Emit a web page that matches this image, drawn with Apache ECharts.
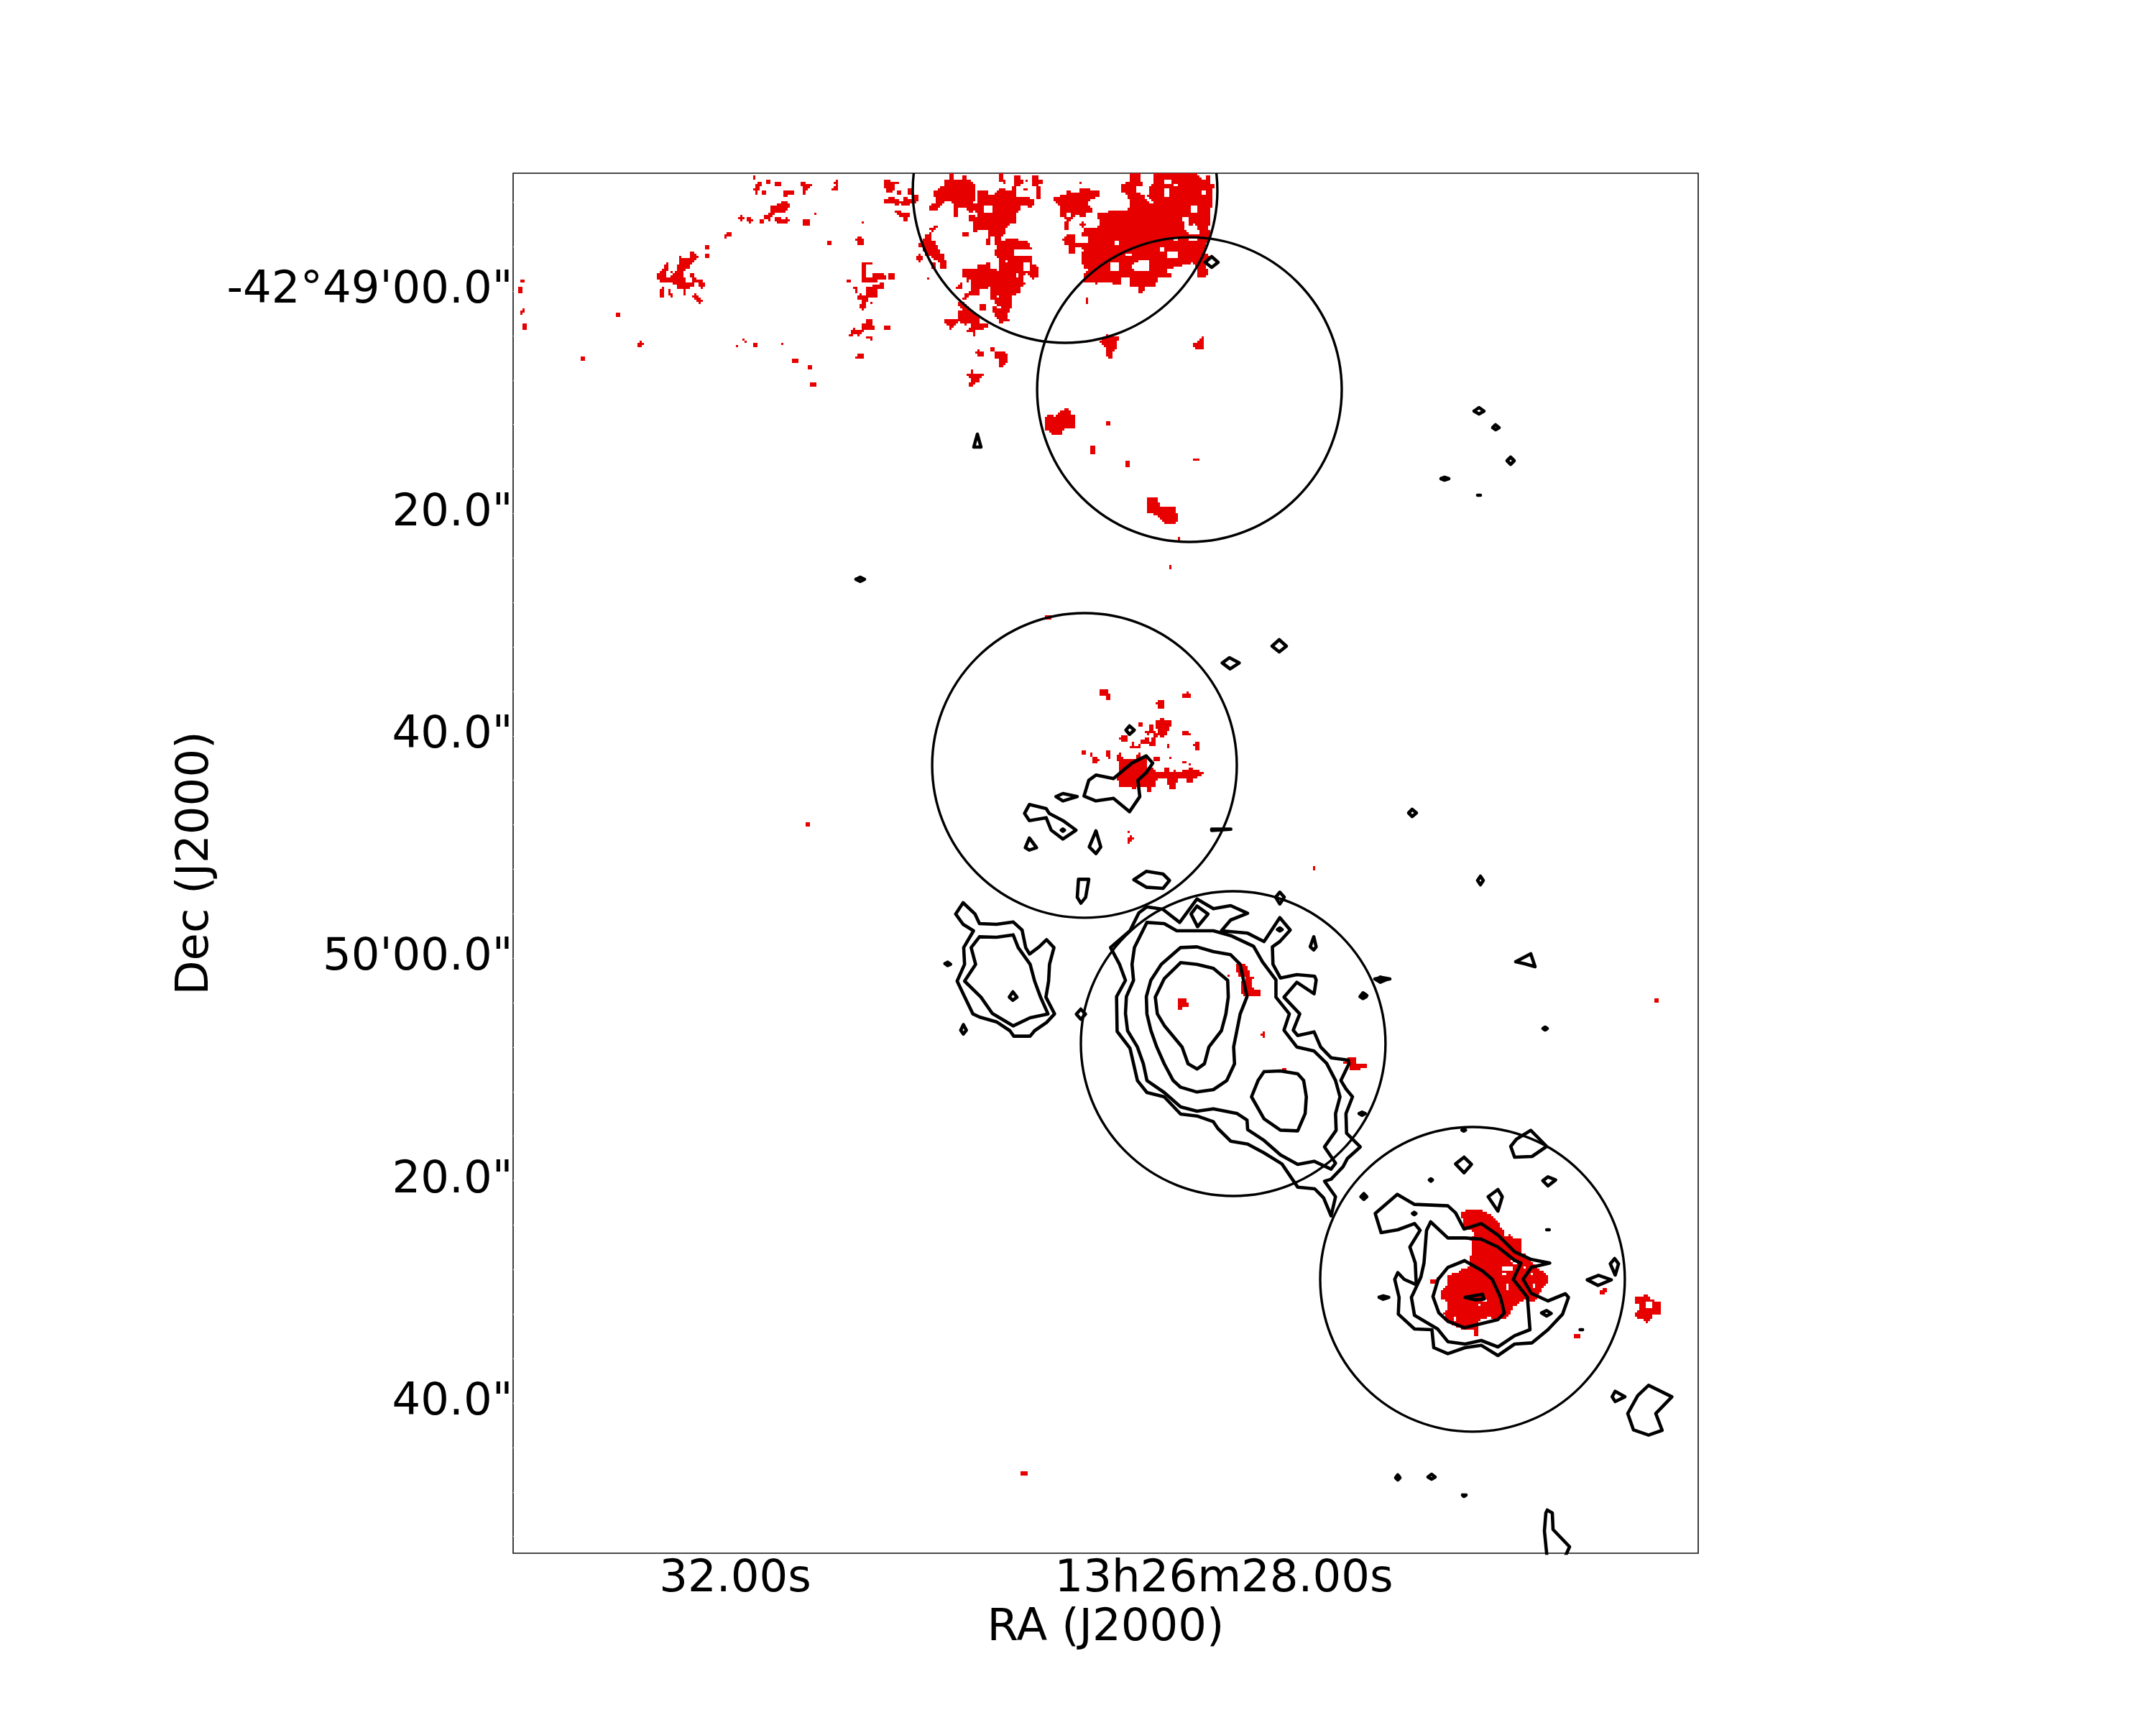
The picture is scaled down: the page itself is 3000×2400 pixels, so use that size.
<!DOCTYPE html>
<html><head><meta charset="utf-8">
<style>html,body{margin:0;padding:0;background:#fff}#c{width:3000px;height:2400px}</style>
<script src="https://cdn.jsdelivr.net/npm/echarts@6/dist/echarts.min.js"></script>
</head><body><div id="c"></div>
<script>
// Tick labels
const raTicks = [32, 28];
const raLabels = ['32.00s', '13h26m28.00s'];
const decTicks = [0, 20, 40, 60, 80, 100];
const decLabels = ['-42°49\'00.0"', '20.0"', '40.0"', '50\'00.0"', '20.0"', '40.0"'];
const decMinorTicks = [-8,-4,0,4,8,12,16,20,24,28,32,36,40,44,48,52,56,60,64,68,72,76,80,84,88,92,96,100,104,108,112];

// Apertures: RA seconds, Dec offset arcsec from -42d49m, radius arcsec
const apertures = [
  [29.3, -9.05, 13.7],
  [28.282, 8.86, 13.7],
  [29.141, 42.66, 13.7],
  [27.924, 67.68, 13.7],
  [25.965, 88.88, 13.7]
];

// Traced samples, each set read in its own frame: [originX, originY, scaleX, scaleY]
const frame0 = [0, 0, 1, 1];
const frame1 = [700, 230, 3, 3];
const frame2 = [1200, 230, 3, 3];
const frame3 = [1280, 840, 3, 3];
const frame4 = [1280, 1230, 2.412, 3];
const frame5 = [1820, 1550, 2.8, 3];

const contours3 = [
 [685,803,705,737,735,715,808,730,885,665,945,635,972,665,945,705,910,737,918,805,875,868,808,812,735,823],
 [568,805,597,792,657,805,597,823],
 [437,875,457,838,527,855,540,875,597,905,652,945,597,982,548,945,527,893,457,905],
 [440,1018,457,978,487,1018,457,1028],
 [735,948,755,1015,735,1043,707,1015],
 [662,1150,705,1150,692,1225,672,1250,657,1225],
 [893,1152,945,1117,1015,1128,1042,1155,1015,1188,945,1183],
 [1218,941,1298,941,1298,946,1218,946],
 [875,510,895,527,875,545,860,527],
 [1262,247,1292,225,1333,247,1295,272],
 [590,945,597,940,604,945,597,950]
];
const contours4 = [
 [120,125,145,78,185,125,200,165,257,168,313,158,343,192,355,265,368,292,400,262,425,232,450,265,435,335,432,405,423,472,452,542,425,578,385,612,370,635,315,635,302,612,257,575,200,555,178,542,150,470,125,405,150,335,147,265,180,195,145,168],
 [200,220,257,222,313,212,330,265,370,335,385,405,405,472,430,542,370,558,313,592,243,540,205,472,150,405,187,335,172,265],
 [312,450,326,472,312,485,300,472],
 [146,587,156,610,146,626,137,610],
 [84,332,93,326,103,335,93,340],
 [540,522,556,543,540,564,525,543],
 [640,265,705,195,735,120,762,95,815,105,872,160,930,62,985,103,1043,90,1100,122,1043,150,1012,195,1100,205,1155,240,1208,140,1243,192,1208,240,1183,262,1185,335,1210,392,1265,378,1325,385,1330,400,1323,458,1265,410,1222,472,1275,542,1253,610,1268,632,1323,617,1345,680,1380,725,1438,735,1440,750,1413,820,1430,855,1452,888,1430,958,1432,1040,1478,1097,1435,1145,1420,1180,1380,1232,1358,1240,1395,1305,1380,1385,1355,1310,1325,1272,1268,1265,1215,1168,1155,1122,1100,1085,1043,1073,1000,1020,985,992,930,968,875,960,820,888,762,870,730,820,705,685,662,615,660,470,690,402,670,335],
 [762,160,820,165,862,195,985,195,1043,215,1120,260,1150,325,1195,400,1195,472,1240,542,1222,610,1265,680,1323,697,1365,748,1395,820,1410,888,1395,958,1397,1028,1358,1097,1395,1165,1380,1190,1323,1157,1268,1170,1210,1130,1155,1070,1100,1025,1098,985,1065,958,985,938,930,948,875,930,820,870,762,820,750,750,730,680,697,612,690,540,693,470,717,402,712,335,720,265],
 [875,265,930,262,985,282,1043,295,1075,335,1098,470,1075,542,1053,680,1056,750,1030,820,985,858,930,868,875,848,850,820,820,750,795,680,775,610,762,542,760,470,775,402,810,335],
 [875,328,930,335,985,352,1033,402,1035,472,1027,542,1012,612,970,680,955,750,930,772,900,750,880,680,820,590,797,542,790,472,820,395],
 [1155,783,1210,780,1268,792,1288,820,1297,888,1293,958,1268,1030,1210,1027,1155,980,1113,888,1135,820],
 [930,92,967,125,932,178,910,125],
 [1322,220,1330,262,1322,275,1310,262],
 [1532,400,1545,388,1563,400,1545,410],
 [1487,454,1498,470,1487,478,1477,470],
 [1474,958,1484,952,1495,958,1484,965],
 [1490,1292,1500,1305,1490,1316,1480,1305],
 [1208,34,1223,55,1208,83,1194,55],
 [1200,190,1208,183,1216,190,1208,196]
];
const contours5 = [
 [262,415,348,335,415,377,545,383,575,412,608,480,675,457,740,505,805,575,870,607,942,622,870,640,838,690,870,748,935,780,1003,750,1015,765,992,835,935,900,873,955,805,960,740,1008,675,965,612,975,545,1000,490,975,483,900,415,897,352,835,355,765,338,690,350,662,375,690,422,712,418,622,397,555,437,485,415,457,350,483,285,495],
 [478,450,545,517,612,517,675,522,740,555,805,610,830,622,800,690,855,765,865,900,805,925,740,972,675,945,612,960,545,950,505,897,415,840,403,765,412,745,440,680,452,622,462,485],
 [610,612,680,655,718,690,750,765,765,830,740,858,610,892,545,865,510,830,487,762,507,690,545,640],
 [612,765,680,752,686,772,650,775],
 [608,180,637,210,608,245,575,208],
 [790,135,812,105,868,68,930,135,873,177,805,180],
 [915,278,935,262,965,275,935,300],
 [702,345,740,315,757,345,740,405],
 [1178,625,1195,603,1210,625,1197,672],
 [1088,692,1132,673,1182,692,1130,715],
 [1185,1180,1197,1157,1235,1180,1197,1200],
 [1246,1250,1285,1175,1327,1132,1418,1180,1355,1250,1380,1320,1327,1340,1268,1318],
 [209,345,217,337,225,345,217,352],
 [473,275,479,270,485,275,479,280],
 [407,415,414,410,421,415,414,420],
 [277,765,293,759,315,765,293,773],
 [910,830,930,820,948,832,930,843],
 [930,483,935,479,940,483,935,487],
 [1060,900,1065,897,1070,900,1065,904],
 [600,67,607,63,614,67,607,71]
];
const contours0 = [
 [2051,572,2058,567,2065,572,2058,576],
 [2077,595,2081,591,2086,595,2081,598],
 [2097,641,2102,636,2107,641,2102,646],
 [2005,666,2010,664,2016,666,2010,668],
 [2056,689,2058,687,2060,689,2058,691],
 [1355,622,1360,604,1365,622],
 [1191,806,1197,803,1203,806,1197,809],
 [1677,365,1686,357,1695,365,1686,372],
 [1770,899,1780,890,1790,899,1780,907],
 [1960,1131,1965,1126,1971,1131,1965,1136],
 [2056,1225,2060,1219,2064,1225,2060,1231],
 [2109,1338,2130,1327,2136,1345,2122,1341],
 [2147,1431,2150,1429,2153,1431,2150,1433],
 [1913,1362,1923,1360,1934,1362,1923,1364],
 [1894,1385,1898,1382,1902,1385,1898,1388],
 [2035,2080,2037,2079,2040,2080,2037,2082],
 [1942,2056,1945,2052,1948,2056,1945,2059],
 [1987,2055,1992,2051,1997,2055,1992,2058],
 [2153,2101,2160,2105,2161,2128,2184,2152,2176,2170,2153,2170,2149,2130,2151,2105]
];

// Emission mask outlines
const redAreas1 = [
 [1044,93,1056,93,1056,75,1065,75,1065,66,1083,66,1083,84,1074,84,1074,102,1083,102,1083,110,1065,110,1065,120,1056,120,1056,110,1044,110],
 [1239,66,1260,66,1260,75,1287,75,1287,84,1278,84,1278,93,1269,93,1269,110,1260,110,1260,120,1251,120,1251,110,1239,110,1239,102,1251,102,1251,84,1239,84],
 [1158,150,1185,150,1185,158,1194,158,1194,176,1185,176,1185,185,1176,185,1176,194,1137,194,1137,203,1128,203,1128,212,1119,212,1119,221,1092,221,1092,203,1110,203,1110,194,1119,194,1119,167,1146,167,1146,158,1158,158],
 [777,363,795,363,795,372,804,372,804,381,813,381,813,390,804,390,804,399,795,399,795,408,786,408,786,417,777,417,777,430,765,430,765,438,756,438,756,465,765,465,765,483,786,483,786,465,804,465,804,474,831,474,831,483,840,483,840,510,831,510,831,519,822,519,822,510,813,510,813,492,795,492,795,510,777,510,777,519,765,519,765,530,756,530,756,519,729,519,729,501,711,501,711,492,672,492,672,483,654,483,654,474,645,474,645,447,654,447,654,438,663,438,663,429,672,429,672,418,684,418,684,408,693,408,693,438,684,438,684,465,702,465,702,456,711,456,711,447,720,447,720,438,729,438,729,418,738,418,738,381,747,381,747,390,777,390]
];
const redRects1 = [
 [1044,45,1056,57],[1101,57,1119,75],[1137,66,1158,84],[1083,110,1101,120],[1167,110,1185,129],[1176,102,1203,120],[1203,110,1212,120],
 [1389,57,1398,84],[1380,66,1389,75],[1371,93,1389,110],[1380,84,1398,102],[1110,221,1119,231],[1137,212,1158,231],[1146,221,1185,242],[1176,212,1185,221],[1185,221,1194,231],
 [1074,221,1092,242],[1017,212,1035,231],[1035,221,1044,231],[1026,231,1035,242],[981,212,1008,221],[990,203,999,231],[1251,221,1278,251],[1296,194,1305,203],
 [933,279,951,297],[924,288,933,305],[840,336,858,354],[840,372,858,390],[1353,315,1371,336],[1473,306,1482,315],[1482,297,1500,336],
 [702,438,711,447],[777,447,795,465],[663,510,672,519],[654,519,672,549],[693,519,702,540],[702,531,711,549],[756,530,765,540],
 [795,531,804,558],[786,540,813,549],[804,549,822,567],[813,558,831,567],[813,567,822,576],
 [69,474,87,492],[60,510,78,531],[78,594,87,612],[69,603,78,624],[78,660,96,687],[468,612,486,633],[561,744,579,762],[570,735,579,744],[579,744,591,753],
 [321,798,339,819],[999,726,1008,735],[1008,735,1017,744],[972,753,981,762],[1044,744,1065,762],[1158,744,1167,753],[1203,810,1230,828],[1269,837,1287,855],[1278,903,1305,921],
 [1437,474,1455,492],[1464,510,1482,519],[1473,519,1482,531],[1482,540,1500,558],[1491,531,1500,540],[1491,576,1500,594],
 [1455,687,1500,705],[1464,678,1473,687],[1446,705,1464,717],[1482,705,1491,717],[1473,798,1500,810],[1482,789,1500,798]
];
const redAreas2 = [
 [85,66,95,57,120,57,120,66,150,66,150,75,130,75,130,102,120,112,103,112,85,90],
 [85,138,110,138,110,130,130,130,130,138,150,138,150,148,168,148,168,138,178,130,190,130,190,138,205,138,205,120,235,130,235,148,222,148,222,158,195,158,195,170,168,170,150,158,150,168,130,168,130,158,85,158],
 [133,185,160,185,160,195,195,195,195,212,185,230,175,230,175,212,150,212,133,195],
 [0,408,40,408,40,418,20,418,20,465,40,465,40,455,50,448,85,448,85,458,95,465,95,475,60,475,60,483,0,483],
 [20,510,40,510,40,500,70,492,93,492,93,510,60,520,60,548,30,548,20,575,10,602,0,602,0,540,20,540],
 [20,645,40,643,40,668,48,668,48,687,10,687,10,695,0,695,0,660,20,660],
 [363,28,382,28,382,57,420,57,420,45,430,45,430,57,460,70,472,85,472,130,465,158,482,158,482,110,520,103,528,125,550,125,575,95,595,95,598,110,622,110,625,85,640,85,640,130,700,130,700,138,718,138,718,168,700,178,670,165,660,185,640,205,640,240,620,245,600,265,600,290,580,295,580,315,620,305,690,315,700,340,708,340,698,355,640,352,632,370,650,382,708,382,708,408,735,430,735,465,752,480,735,470,720,470,712,480,700,470,680,450,670,480,678,490,660,510,660,530,625,545,625,600,615,600,605,630,615,650,570,660,565,640,550,620,540,595,560,585,550,560,530,555,530,510,495,512,485,510,490,545,440,545,430,558,410,560,430,535,450,520,450,480,437,485,440,465,420,465,420,435,455,430,480,430,485,415,530,408,540,435,575,440,575,400,565,385,550,375,548,355,565,355,565,335,550,330,550,297,540,297,528,335,513,335,513,305,522,305,522,270,465,275,465,220,480,210,470,190,440,195,437,180,400,180,400,210,382,212,382,180,372,150,345,150,328,175,310,185,280,185,280,168,300,160,310,150,300,130,290,125,300,110,320,95,345,85,345,57,363,57],
 [262,288,288,280,290,315,305,320,318,345,330,372,345,372,345,400,353,400,353,437,328,437,328,420,318,400,300,395,290,380,262,378,250,345,225,345,240,325,262,305],
 [485,585,495,576,512,576,522,590,512,603,495,603,485,595],
 [400,565,420,565,440,590,480,625,490,645,485,660,520,655,522,675,500,685,475,685,472,715,465,715,460,700,440,700,437,688,450,680,455,662,435,662,430,668,420,660,400,655,380,668,372,685,365,685,360,668,345,655,337,643,395,645,400,610,415,600,400,585],
 [475,780,485,770,495,780,503,780,503,798,485,798,475,790],
 [530,762,550,762,550,780,595,780,605,790,605,810,615,815,595,830,585,845,575,845,575,810,550,805,550,780,530,780],
 [455,847,465,847,465,870,472,882,472,872,503,872,503,882,490,885,490,900,470,905,465,920,447,920,447,905,455,900,447,882,437,882,437,872,448,872],
 [1115,28,1163,28,1163,65,1173,70,1173,85,1140,85,1140,110,1180,130,1190,150,1200,160,1215,155,1205,140,1185,130,1180,120,1200,120,1200,85,1218,70,1218,28,1400,28,1400,45,1430,65,1430,45,1450,45,1450,75,1478,85,1465,100,1465,155,1450,190,1450,230,1445,270,1455,275,1450,300,1430,350,1420,380,1430,365,1450,375,1455,390,1430,420,1450,440,1435,465,1395,465,1395,425,1375,410,1345,420,1340,410,1320,428,1300,428,1290,435,1275,430,1275,455,1293,455,1293,473,1265,473,1260,465,1235,465,1228,490,1228,510,1180,510,1170,530,1152,530,1152,510,1120,510,1115,470,1082,465,1082,500,1042,500,1040,490,1015,483,980,490,975,500,968,490,945,490,925,483,920,460,945,440,925,425,915,395,912,370,925,350,915,345,890,345,890,370,865,370,865,340,850,335,838,310,855,290,885,290,885,322,920,325,945,320,945,295,920,295,920,280,930,262,978,262,988,240,978,200,990,195,1100,185,1115,175,1115,150,1105,125,1080,110,1080,85,1115,65],
 [855,103,875,103,875,118,910,118,910,100,950,95,958,103,988,103,988,130,945,150,940,170,965,180,965,195,945,200,930,185,930,212,910,212,900,205,880,215,870,230,860,230,865,268,848,268,838,235,855,225,820,210,830,190,820,170,802,150,802,130,820,130,838,120,855,120],
 [988,735,1010,720,1020,705,1025,718,1072,718,1072,735,1060,735,1060,770,1050,770,1045,795,1030,810,1015,790,1015,760,1000,745],
 [1378,745,1395,745,1415,718,1422,718,1422,770,1395,770,1378,760],
 [762,1060,772,1042,790,1042,790,1050,805,1050,815,1042,825,1050,835,1050,845,1015,862,1015,865,1035,885,1042,893,1075,893,1080,762,1080]
];
const redRects2 = [
 [140,102,160,120],[185,93,205,120],[0,232,10,242],[0,306,10,336],[110,447,132,475],[30,566,40,576],[93,668,112,688],[18,717,40,725],[30,725,40,735],[0,790,10,810],
 [568,28,585,70],[585,57,598,75],[632,45,660,85],[660,57,670,75],[678,57,690,67],[670,95,690,110],[708,45,735,85],[735,57,752,75],[725,85,745,138],
 [445,205,470,232],[412,288,420,297],[420,280,447,297],[300,252,318,262],[280,262,308,270],[290,270,300,278],
 [225,380,252,400],[235,372,245,408],[270,465,280,475],[290,410,305,430],[390,510,400,518],[400,500,420,518],[410,492,420,500],
 [903,65,912,75],[903,240,930,250],[912,230,922,260],[930,550,940,558],[938,558,947,575]
];
const holes2 = [
 [1338,212,1358,212,1358,250,1385,245,1400,255,1405,290,1365,290,1340,265],
 [1128,420,1140,405,1170,392,1195,395,1200,440,1140,445,1128,435]
];
const holeRects2 = [
 [503,167,540,195],[670,408,700,438],[595,400,606,410],[640,455,650,465],[565,540,575,550],[565,585,578,595],
 [1258,57,1290,80],[1300,75,1320,92],[1258,100,1280,135],[1412,102,1432,120],[1368,170,1395,195],[1050,315,1072,336],[1245,345,1265,362],[1268,362,1320,390],[1098,365,1125,380],[1033,408,1070,438],[1295,305,1312,315],[1360,305,1395,315],[855,195,875,212]
];
const redAreas3 = [
 [987,483,1005,483,1005,474,1017,474,1017,483,1053,483,1053,510,1044,510,1044,530,1026,530,1026,548,1017,558,1005,558,1005,548,996,548,996,530,987,520],
 [819,633,831,633,831,624,840,624,840,633,849,642,867,651,885,651,903,642,903,633,912,624,924,624,924,642,945,642,945,680,975,690,987,705,1017,705,1017,690,1026,682,1035,682,1044,700,1062,700,1062,690,1071,690,1071,705,1098,700,1098,690,1110,690,1110,700,1120,690,1128,680,1145,695,1172,700,1182,708,1172,718,1155,727,1137,738,1137,752,1110,752,1110,727,1080,727,1071,745,1062,772,1044,772,1026,745,1026,727,990,735,987,760,970,770,968,782,951,782,951,765,905,765,905,772,885,772,885,762,831,762,831,735,819,735,831,700,831,660,819,660]
];
const redRects3 = [
 [522,47,545,65],[747,354,783,381],[774,372,792,402],[1098,372,1128,393],[1110,363,1120,372],[987,411,1017,420],[996,402,1017,438],[912,495,933,513],
 [960,505,978,530],[942,530,987,540],[951,540,960,550],[978,540,996,558],[1098,531,1118,549],[1118,540,1128,549],[831,558,840,567],[840,549,867,576],
 [924,567,960,585],[942,558,960,567],[969,558,987,590],[960,576,978,597],[1137,585,1146,597],[1146,576,1164,615],[885,576,894,590],[876,590,903,606],[903,597,924,606],[912,588,924,597],
 [1026,588,1044,606],[672,615,690,633],[708,624,720,642],[717,642,738,669],[738,651,747,660],[774,615,792,642],[783,642,792,651],
 [978,642,1003,660],[1044,642,1053,651],[1098,660,1110,669],[1119,669,1128,680],[867,948,876,960],[876,969,885,996],[867,978,876,1005],[885,978,894,987]
];
const redAreas4 = [
 [1065,336,1090,336,1100,355,1110,385,1124,385,1124,400,1112,400,1112,435,1140,440,1145,455,1140,467,1088,467,1078,460,1078,412,1090,400,1090,385,1072,385,1072,365,1065,365],
 [862,495,870,478,893,478,893,495,900,495,900,512,883,512,883,521,862,521],
 [1423,742,1438,727,1467,727,1467,748,1497,748,1505,760,1497,772,1480,772,1480,782,1445,782,1445,755,1423,755]
];
const redRects4 = [[1032,375,1042,384],[1153,615,1160,645],[1146,623,1153,633],[1213,765,1228,778]];
const redAreas5 = [
 [595,415,625,400,668,400,690,410,720,428,745,460,765,485,765,510,790,503,800,520,830,520,832,575,850,590,875,625,905,650,920,665,938,680,938,705,920,720,900,750,885,778,860,778,850,770,830,785,805,800,790,825,775,850,755,855,700,848,665,860,660,900,668,930,650,930,645,895,610,900,580,890,570,880,545,870,530,830,540,820,540,780,520,770,520,735,540,715,548,670,585,665,595,650,625,640,625,605,640,585,632,520,650,505,640,485,605,470,600,435],
 [1275,762,1305,762,1315,745,1322,762,1340,770,1350,780,1372,785,1372,835,1345,835,1335,860,1320,872,1305,858,1275,845,1275,825,1290,815,1290,790,1275,790]
];
const redRects5 = [[476,688,505,705],[500,680,508,690],[1137,735,1155,752],[1150,726,1162,745],[1040,922,1058,940]];
const holes5 = [[782,605,805,620,830,625,810,630,790,620]];
const holeRects5 = [[755,632,800,650],[760,660,775,670],[875,705,885,725],[775,710,785,735],[840,632,850,640],[865,660,875,668],[660,790,670,800],[680,770,695,780],[570,845,580,860],[1320,785,1340,805]];
const redAreas0 = [
 [1454,590,1457,577,1463,577,1470,580,1478,570,1487,570,1492,578,1498,590,1494,597,1480,597,1478,605,1462,603,1454,596],
 [1597,693,1610,693,1615,703,1634,705,1640,720,1636,730,1622,728,1612,718,1597,712]
];
const redRects0 = [
 [1538,587,1544,591],[1518,621,1524,631],[1566,641,1572,649],[1660,637,1668,642],[1638,748,1643,753],[1626,786,1631,791],
 [1122,1145,1128,1151],[1825,1205,1830,1210],[2302,1388,2308,1394],[1422,2046,1429,2052]
];

// Sky calibration of the reference frame
const pxPerSecond = 170, pxPerArcsec = 15.47;
const skyX = px => 32 - (px - 1023) / pxPerSecond;
const skyY = py => (py - 405) / pxPerArcsec;
const raMin = skyX(2363), raMax = skyX(714), decMin = skyY(241), decMax = skyY(2161);

const pts = (f, flat) => { const o = []; for (let i = 0; i < flat.length; i += 2) o.push([f[0] + flat[i] / f[2], f[1] + flat[i + 1] / f[3]]); return o; };
const rc = (f, r) => [f[0] + r[0] / f[2], f[1] + r[1] / f[3], f[0] + r[2] / f[2], f[1] + r[3] / f[3]];

// Rasterise the mask on the image's native cells
const cell = 3.03, ox = 714.5, oy = 241, NX = 545, NY = 634;
const mask = new Uint8Array(NX * NY);
function fillPoly(p, v) {
  let x0 = 1e9, x1 = -1e9, y0 = 1e9, y1 = -1e9;
  p.forEach(q => { x0 = Math.min(x0, q[0]); x1 = Math.max(x1, q[0]); y0 = Math.min(y0, q[1]); y1 = Math.max(y1, q[1]); });
  for (let j = Math.max(0, Math.floor((y0 - oy) / cell)); j <= Math.min(NY - 1, Math.ceil((y1 - oy) / cell)); j++)
    for (let i = Math.max(0, Math.floor((x0 - ox) / cell)); i <= Math.min(NX - 1, Math.ceil((x1 - ox) / cell)); i++) {
      const cx = ox + (i + .5) * cell, cy = oy + (j + .5) * cell; let inside = false;
      for (let a = 0, b = p.length - 1; a < p.length; b = a++) {
        if ((p[a][1] > cy) !== (p[b][1] > cy) && cx < (p[b][0] - p[a][0]) * (cy - p[a][1]) / (p[b][1] - p[a][1]) + p[a][0]) inside = !inside;
      }
      if (inside) mask[j * NX + i] = v;
    }
}
function fillRect(r, v) {
  const i0 = Math.round((r[0] - ox) / cell), j0 = Math.round((r[1] - oy) / cell);
  const i1 = Math.max(i0 + 1, Math.round((r[2] - ox) / cell)), j1 = Math.max(j0 + 1, Math.round((r[3] - oy) / cell));
  for (let j = Math.max(0, j0); j < Math.min(NY, j1); j++) for (let i = Math.max(0, i0); i < Math.min(NX, i1); i++) mask[j * NX + i] = v;
}
[[frame0, redAreas0], [frame1, redAreas1], [frame2, redAreas2], [frame3, redAreas3], [frame4, redAreas4], [frame5, redAreas5]].forEach(s => s[1].forEach(a => fillPoly(pts(s[0], a), 1)));
[[frame0, redRects0], [frame1, redRects1], [frame2, redRects2], [frame3, redRects3], [frame4, redRects4], [frame5, redRects5]].forEach(s => s[1].forEach(r => fillRect(rc(s[0], r), 1)));
[[frame2, holes2], [frame5, holes5]].forEach(s => s[1].forEach(a => fillPoly(pts(s[0], a), 0)));
[[frame2, holeRects2], [frame5, holeRects5]].forEach(s => s[1].forEach(r => fillRect(rc(s[0], r), 0)));

const redRuns = [];
for (let j = 0; j < NY; j++) {
  let i = 0;
  while (i < NX) {
    if (mask[j * NX + i]) {
      let e = i; while (e + 1 < NX && mask[j * NX + e + 1]) e++;
      redRuns.push([skyX(ox + i * cell), skyX(ox + (e + 1) * cell), skyY(oy + j * cell), skyY(oy + (j + 1) * cell)]);
      i = e + 1;
    } else i++;
  }
}

const contourSeries = [];
[[frame0, contours0], [frame3, contours3], [frame4, contours4], [frame5, contours5]].forEach(s => s[1].forEach(c => {
  const p = pts(s[0], c).map(q => [skyX(q[0]), skyY(q[1])]);
  p.push(p[0]);
  contourSeries.push({
    type: 'line', data: p, symbol: 'none', silent: true, animation: false, clip: true, z: 4,
    lineStyle: { color: '#000', width: 4.6, join: 'round', cap: 'round' }
  });
}));

const chart = echarts.init(document.getElementById('c'), null, { renderer: 'canvas' });
chart.setOption({
  animation: false,
  backgroundColor: '#fff',
  grid: { left: 714, top: 241, width: 1649, height: 1920, show: true, borderColor: '#111', borderWidth: 1.6, backgroundColor: 'transparent' },
  xAxis: {
    type: 'value', inverse: true, min: raMin, max: raMax, name: 'RA (J2000)', nameLocation: 'middle', nameGap: 69,
    nameTextStyle: { fontFamily: 'DejaVu Sans', fontSize: 62.5, color: '#000' },
    splitLine: { show: false }, axisLine: { show: false },
    axisTick: { show: true, inside: true, length: 10, lineStyle: { color: '#fff', width: 1 }, customValues: raTicks },
    axisLabel: { show: true, margin: 5, fontFamily: 'DejaVu Sans', fontSize: 62.5, color: '#000', customValues: raTicks,
      formatter: v => raLabels[raTicks.findIndex(t => Math.abs(t - v) < 1e-6)] }
  },
  yAxis: {
    type: 'value', inverse: true, min: decMin, max: decMax, name: 'Dec (J2000)', nameLocation: 'middle', nameGap: 387,
    nameTextStyle: { fontFamily: 'DejaVu Sans', fontSize: 62.5, color: '#000' },
    splitLine: { show: false }, axisLine: { show: false },
    axisTick: { show: true, inside: true, length: 10, lineStyle: { color: '#fff', width: 1 }, customValues: decMinorTicks },
    axisLabel: { show: true, margin: 0.5, fontFamily: 'DejaVu Sans', fontSize: 62.5, color: '#000', customValues: decTicks,
      formatter: v => decLabels[decTicks.findIndex(t => Math.abs(t - v) < 1e-6)] }
  },
  series: [
    {
      type: 'custom', coordinateSystem: 'cartesian2d', data: redRuns, clip: true, silent: true, z: 2,
      encode: { x: [0, 1], y: [2, 3] },
      renderItem: (params, api) => {
        const a = api.coord([api.value(0), api.value(2)]), b = api.coord([api.value(1), api.value(3)]);
        const x = Math.round(a[0]), y = Math.round(a[1]);
        return { type: 'rect', shape: { x, y, width: Math.round(b[0]) - x, height: Math.round(b[1]) - y }, style: { fill: '#e60000' } };
      }
    },
    {
      type: 'custom', coordinateSystem: 'cartesian2d', data: apertures, clip: true, silent: true, z: 5,
      encode: { x: 0, y: 1 },
      renderItem: (params, api) => {
        const c = api.coord([api.value(0), api.value(1)]), r = api.size([0, api.value(2)])[1];
        return { type: 'circle', shape: { cx: c[0], cy: c[1], r }, style: { fill: 'none', stroke: '#000', lineWidth: 3.4 } };
      }
    }
  ].concat(contourSeries)
});
</script></body></html>
